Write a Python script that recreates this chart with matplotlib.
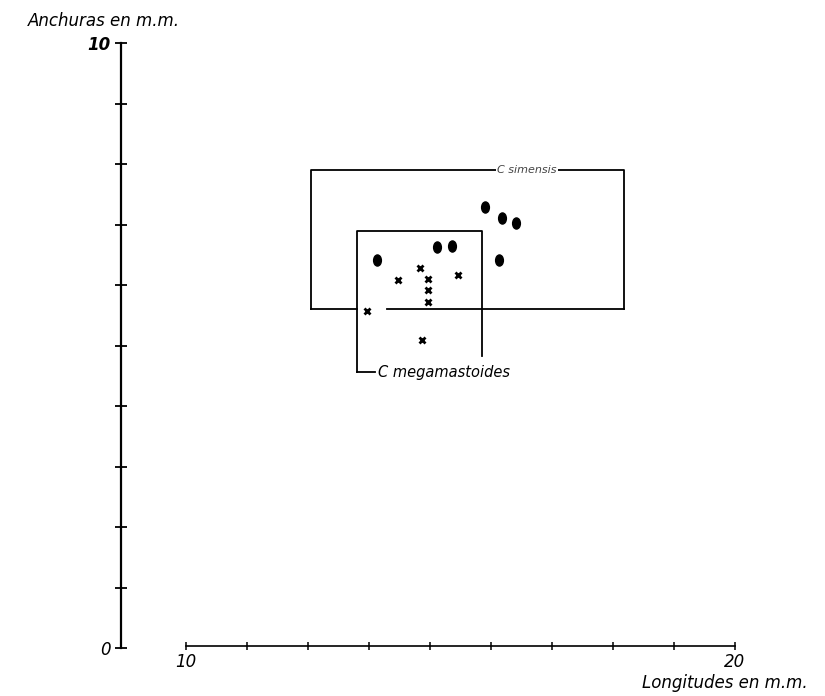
import numpy as np
import matplotlib
matplotlib.use('Agg')
import matplotlib.pyplot as plt
from matplotlib.path import Path
from matplotlib.transforms import Affine2D

# C. simensis (dots): longitud, anchura en mm
sim_len = [15.45, 15.76, 16.01, 14.57, 14.85, 13.48, 15.70]
sim_wid = [7.29, 7.11, 7.02, 6.63, 6.64, 6.41, 6.41]

# C. megamastoides (crosses)
meg_len = [14.26, 13.86, 14.41, 14.95, 14.41, 14.41, 13.30, 14.30]
meg_wid = [6.28, 6.08, 6.10, 6.17, 5.92, 5.72, 5.57, 5.09]

# ranges drawn as open boxes
sim_box_x = [12.27, 17.98]
sim_box_y = [5.60, 7.90]
sim_gap = [13.11, 13.66]      # break in the bottom line
meg_box_x = [13.11, 15.40]
meg_box_y = [4.83, 6.89]
meg_label_y = 4.56

y_ticks = list(range(0, 11))
y_labels = ['0'] + [''] * 9 + ['10']
x_ticks = np.linspace(10, 20, 10)
x_labels = ['10'] + [''] * 8 + ['20']

plt.rcParams['font.family'] = ['DejaVu Sans']

fig = plt.figure(figsize=(8.25, 6.96), dpi=100)
ax = fig.add_axes([0, 0, 1, 1])
ax.set_xlim(6.612, 21.639)
ax.set_ylim(-0.793, 10.711)

ax.spines['top'].set_visible(False)
ax.spines['right'].set_visible(False)
ax.spines['left'].set_position(('data', 8.816))
ax.spines['left'].set_bounds(0, 10)
ax.spines['left'].set_linewidth(1.6)
ax.spines['bottom'].set_position(('data', 0.03))
ax.spines['bottom'].set_bounds(10, 20)
ax.spines['bottom'].set_linewidth(1.2)

ax.set_yticks(y_ticks, y_labels, fontsize=12, fontstyle='italic', fontweight='bold')
ax.get_yticklabels()[0].set_fontweight('normal')
ax.tick_params(axis='y', direction='inout', length=9, width=1.3, pad=3)
ax.set_xticks(x_ticks, x_labels, fontsize=12, fontstyle='italic')
ax.tick_params(axis='x', direction='inout', length=6, width=1.1, pad=2)

# oval dot marker
oval = Path.unit_circle().transformed(Affine2D().scale(0.7, 1.0))
ax.plot(sim_len, sim_wid, linestyle='none', marker=oval, markersize=8,
        color='black')
ax.plot(meg_len, meg_wid, linestyle='none', marker='x', markersize=5,
        markeredgewidth=2, color='black')

# C. simensis box
lw = 1.3
x0, x1 = sim_box_x
y0, y1 = sim_box_y
ax.plot([x0, x0, x1, x1], [y0, y1, y1, y0], color='black', lw=lw)
ax.plot([x0, sim_gap[0]], [y0, y0], color='black', lw=lw)
ax.plot([sim_gap[1], x1], [y0, y0], color='black', lw=lw)
ax.text((x0 + x1) / 2 + 1.08, y1, 'C simensis', fontsize=8, fontstyle='italic',
        ha='center', va='center', color='#444444',
        bbox=dict(facecolor='white', edgecolor='none', pad=1))

# C. megamastoides box
m0, m1 = meg_box_x
n0, n1 = meg_box_y
ax.plot([m0, m0, m1, m1], [meg_label_y, n1, n1, n0], color='black', lw=lw)
ax.plot([m0, m0 + 0.33], [meg_label_y, meg_label_y], color='black', lw=lw)
ax.text(m0 + 0.38, meg_label_y, 'C megamastoides', fontsize=10.5,
        fontstyle='italic', ha='left', va='center')

ax.text(0.126, 0.970, 'Anchuras en m.m.', transform=ax.transAxes,
        fontsize=12, fontstyle='italic', ha='center', va='center')
ax.text(0.879, 0.018, 'Longitudes en m.m.', transform=ax.transAxes,
        fontsize=12, fontstyle='italic', ha='center', va='center')

fig.savefig('out.png', dpi=100)
